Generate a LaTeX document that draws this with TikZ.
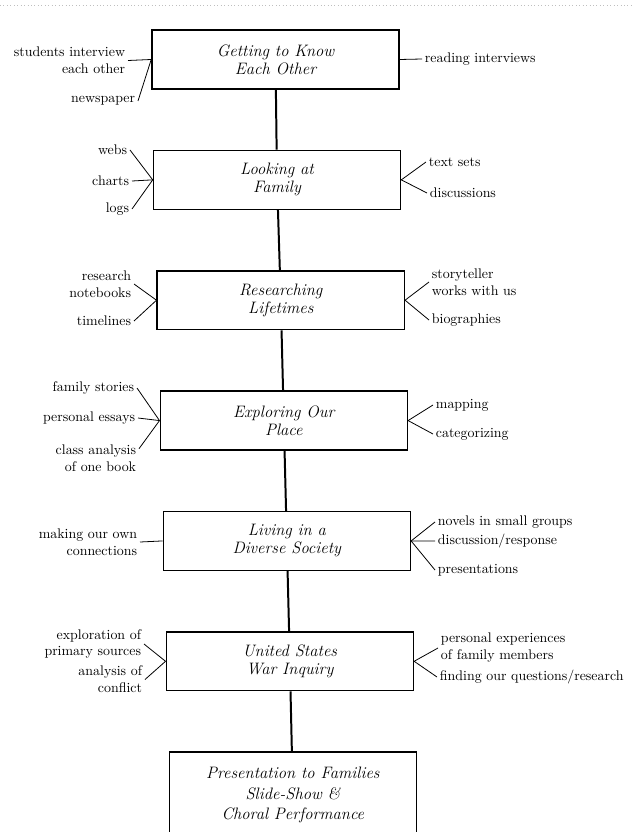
\documentclass[tikz,border=0pt]{standalone}
\usepackage{tikz}
\usetikzlibrary{positioning}

\tikzset{
  phase/.style={draw, line width=1.1pt, minimum width=6.55cm, minimum height=1.56cm,
    inner sep=0pt, align=center, font=\fontsize{12.5}{13.5}\selectfont\itshape},
  lbl/.style={inner sep=2pt, font=\fontsize{10.5}{12.8}\selectfont},
  twig/.style={line width=0.6pt},
  trunk/.style={line width=1.5pt}
}

\begin{document}
\begin{tikzpicture}[x=0.0265cm, y=-0.0265cm, node distance=3.19cm, on grid]
	\useasboundingbox (0,0) rectangle (634,832);
	\clip (0,0) rectangle (634,832);
	\draw[gray!50, dotted, line width=0.6pt] (0,5) -- (634,5);
	% the column of phases
	\node[phase] (b_1) at (275.5,59.5) {Getting to Know\\Each Other};
	\node[phase] (b_2) [below=of b_1, xshift=0.04cm] {Looking at\\Family};
	\node[phase] (b_3) [below=of b_2, xshift=0.1cm] {Researching\\Lifetimes};
	\node[phase] (b_4) [below=of b_3, xshift=0.08cm] {Exploring Our\\Place};
	\node[phase] (b_5) [below=of b_4, xshift=0.08cm] {Living in a\\Diverse Society};
	\node[phase] (b_6) [below=of b_5, xshift=0.08cm] {United States\\War Inquiry};
	\node[phase, minimum height=2.28cm, font=\fontsize{12.5}{15.5}\selectfont\itshape] (b_7)
		[below=3.55cm of b_6, xshift=0.08cm] {Presentation to Families\\Slide-Show \&\\Choral Performance};
	\path[trunk]
		(b_1) edge (b_2)
		(b_2) edge (b_3)
		(b_3) edge (b_4)
		(b_4) edge (b_5)
		(b_5) edge (b_6)
		(b_6) edge (b_7);
	% activities, left and right of each phase
	\node[lbl, anchor=east, align=right] (l_1a) at (128,60.5) {students interview\\each other};
	\node[lbl, anchor=east] (l_1b) at (138,101) {newspaper};
	\node[lbl, anchor=west] (r_1a) at (422,59) {reading interviews};
	\draw[twig] (l_1a.east) -- (b_1.west);
	\draw[twig] (l_1b.east) -- (b_1.west);
	\draw[twig] (b_1.east) -- (r_1a.west);

	\node[lbl, anchor=east] (l_2a) at (130,150) {webs};
	\node[lbl, anchor=east] (l_2b) at (132,181) {charts};
	\node[lbl, anchor=east] (l_2c) at (132,209) {logs};
	\node[lbl, anchor=west] (r_2a) at (426,162) {text sets};
	\node[lbl, anchor=west] (r_2b) at (427,193) {discussions};
	\draw[twig] (l_2a.east) -- (b_2.west);
	\draw[twig] (l_2b.east) -- (b_2.west);
	\draw[twig] (l_2c.east) -- (b_2.west);
	\draw[twig] (b_2.east) -- (r_2a.west);
	\draw[twig] (b_2.east) -- (r_2b.west);

	\node[lbl, anchor=east, align=right] (l_3a) at (134,284) {research\\notebooks};
	\node[lbl, anchor=east] (l_3b) at (134,321) {timelines};
	\node[lbl, anchor=west, align=left] (r_3a) at (429,282) {storyteller\\works with us};
	\node[lbl, anchor=west] (r_3b) at (429,320) {biographies};
	\draw[twig] (l_3a.east) -- (b_3.west);
	\draw[twig] (l_3b.east) -- (b_3.west);
	\draw[twig] (b_3.east) -- (r_3a.west);
	\draw[twig] (b_3.east) -- (r_3b.west);

	\node[lbl, anchor=east] (l_4a) at (137,388) {family stories};
	\node[lbl, anchor=east] (l_4b) at (138,418) {personal essays};
	\node[lbl, anchor=east, align=right] (l_4c) at (139,458) {class analysis\\of one book};
	\node[lbl, anchor=west] (r_4a) at (433,405) {mapping};
	\node[lbl, anchor=west] (r_4b) at (433,434) {categorizing};
	\draw[twig] (l_4a.east) -- (b_4.west);
	\draw[twig] (l_4b.east) -- (b_4.west);
	\draw[twig] ([yshift=7pt]l_4c.east) -- (b_4.west);
	\draw[twig] (b_4.east) -- (r_4a.west);
	\draw[twig] (b_4.east) -- (r_4b.west);

	\node[lbl, anchor=east, align=right] (l_5a) at (140,542) {making our own\\connections};
	\node[lbl, anchor=west] (r_5a) at (435,522) {novels in small groups};
	\node[lbl, anchor=west] (r_5b) at (435,541) {discussion/response};
	\node[lbl, anchor=west] (r_5c) at (435,570) {presentations};
	\draw[twig] (l_5a.east) -- (b_5.west);
	\draw[twig] (b_5.east) -- (r_5a.west);
	\draw[twig] (b_5.east) -- (r_5b.west);
	\draw[twig] (b_5.east) -- (r_5c.west);

	\node[lbl, anchor=east, align=right] (l_6a) at (144,644) {exploration of\\primary sources};
	\node[lbl, anchor=east, align=right] (l_6b) at (145,679.5) {analysis of\\conflict};
	\node[lbl, anchor=west, align=left] (r_6a) at (438,648) {personal experiences\\of family members};
	\node[lbl, anchor=west] (r_6b) at (437,677) {finding our questions/research};
	\draw[twig] (l_6a.east) -- (b_6.west);
	\draw[twig] (l_6b.east) -- (b_6.west);
	\draw[twig] (b_6.east) -- (r_6a.west);
	\draw[twig] (b_6.east) -- (r_6b.west);
\end{tikzpicture}
\end{document}
